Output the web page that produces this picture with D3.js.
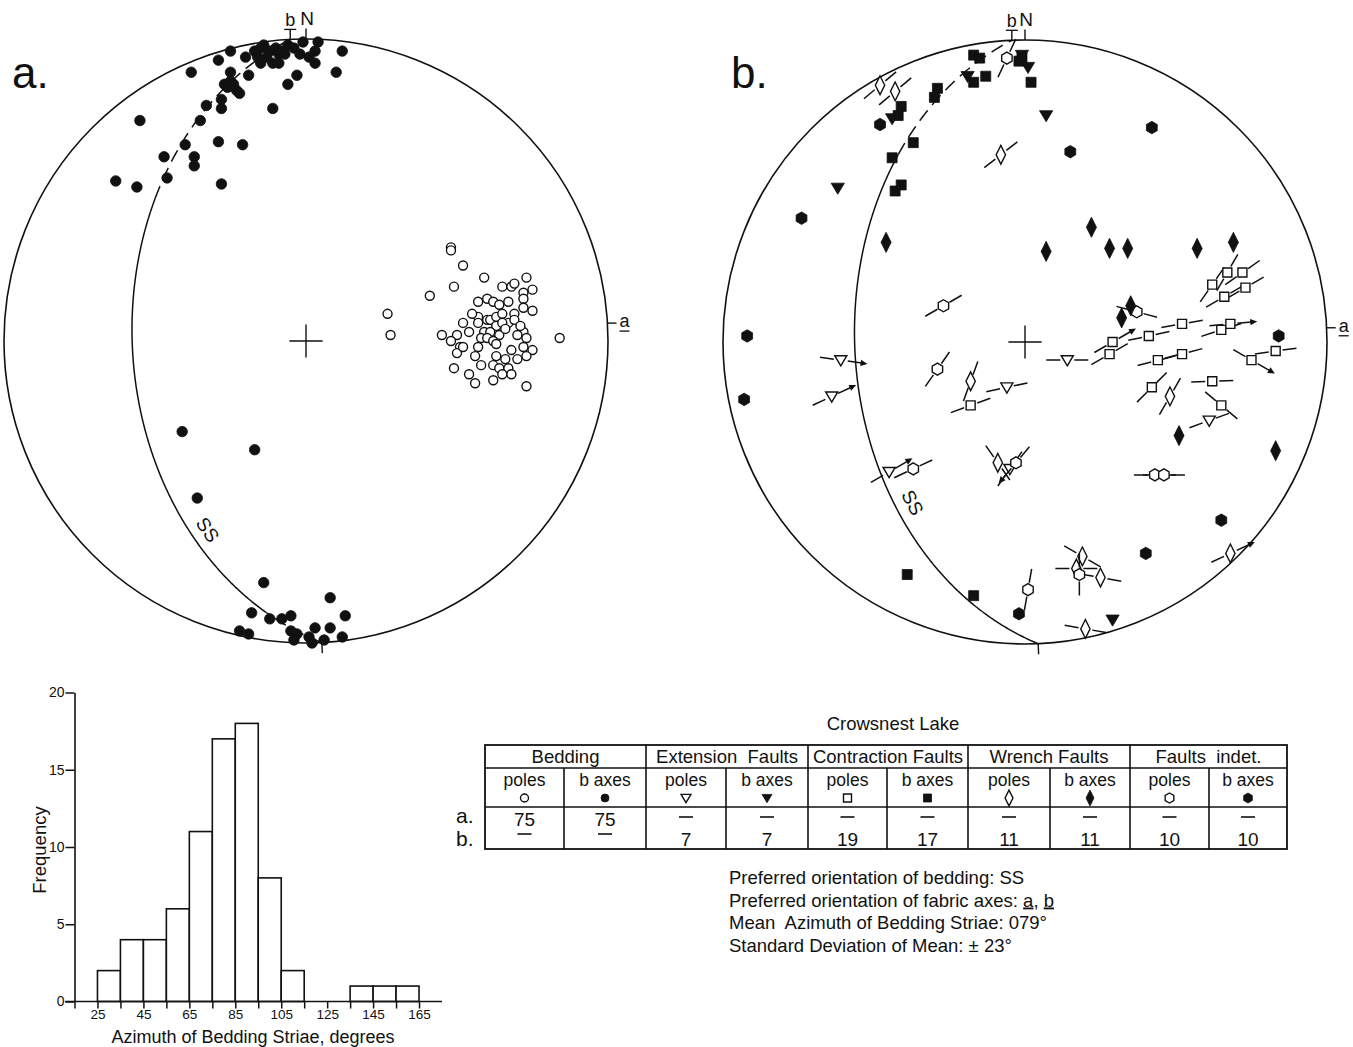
<!DOCTYPE html>
<html>
<head>
<meta charset="utf-8">
<script src="https://cdn.jsdelivr.net/npm/d3@7"></script>
<style>
  body { margin: 0; background: #fff; }
  svg { display: block; }
  text { font-family: "Liberation Sans", Arial, sans-serif; fill: #111; }
</style>
</head>
<body>
<svg id="chart" width="1353" height="1047"></svg>
<script>
// ---------------- Histogram data: azimuth of bedding striae ----------------
const binStarts  = [25, 35, 45, 55, 65, 75, 85, 95, 105, 115, 125, 135, 145, 155];
const binCounts  = [2, 4, 4, 6, 11, 17, 18, 8, 2, 0, 0, 1, 1, 1];
const xTickVals  = [15, 25, 35, 45, 55, 65, 75, 85, 95, 105, 115, 125, 135, 145, 155, 165];
const xTickLabels = [25, 45, 65, 85, 105, 125, 145, 165];
const yTickVals  = [0, 5, 10, 15, 20];

// ---------------- Net a: bedding (equal-area net, % of radius: east, north) ----------------
const beddingBAxes = [
  [-25,96],[-29,93],[-38,89],[-20,94],[-16,94],[-15,97],[-15,92],[-12,96],[-10,97],[-9,95],
  [-8,96],[-11,92],[-9,92],[-6,98],[-4,97],[-1,99],[4,99],[3,96],[1,94],[3,92],
  [12,96],[10,89],[-3,88],[-6,85],[-19,88],[-25,89],[-27,85],[-25,86],[-24,85],[-23,83],
  [-22,82],[-26,84],[-28,80],[-28,77],[-33,78],[-11,77],[-55,73],[-35,73],[-29,66],[-21,65],
  [-40,65],[-47,61],[-37,61],[-37,58],[-46,54],[-63,53],[-56,51],[-28,52],[-13,94],[-7,95],
  [-17,96],[-2,95],[-14,98],
  [-41,-30],[-17,-36],[-36,-52],[-14,-80],[8,-85],[-18,-90],[-12,-92],[-8,-92],[-5,-91],
  [13,-91],[8,-95],[3,-95],[-5,-96],[-3,-97],[-22,-96],[-19,-97],[-4,-99],[1,-98],[2,-100],
  [6,-99],[12,-98]
];
const beddingPoles = [
  [48,31],[48,30],[52,25],[59,21],[49,18],[41,15],[27,9],[28,2],[84,1],[65,18],[68,18],
  [69,19],[73,21],[75,17],[72,16],[57,13],[60,14],[62,13],[67,13],[72,14],[72,11],
  [75,10],[57,8],[60,7],[61,7],[63,8],[65,9],[69,9],[67,6],[69,7],[63,5],
  [65,6],[57,6],[54,3],[45,2],[50,2],[59,3],[61,3],[64,2],[58,1],[60,1],
  [62,0],[72,3],[73,1],[48,0],[51,-2],[50,-4],[52,-2],[57,-2],[72,-2],[75,-3],
  [73,-5],[56,-5],[63,-5],[66,-6],[70,-6],[49,-9],[62,-8],[64,-9],[67,-9],[54,-11],
  [65,-11],[68,-11],[62,-13],[56,-14],[73,-15],[66,4],[70,2],[63,-1],[55,9],[68,-3],
  [58,-8],[52,6],[71,5],[64,12]
];

// ---------------- Net b: faults (east, north[, striae angle, arrow]) ----------------
const extensionPoles = [[-61,-6,-8,1],[-64,-18,25,1],[-45,-43,30,1],[-6,-15,12,0],[14,-6,0,0],[-5,-42,55,0],[61,-26,20,0]];
const extensionAxes  = [[-19,88],[-44,74],[-1,95],[1,91],[7,75],[-62,51],[29,-92]];
const contractionPoles = [
  [67,23,60,0],[72,23,35,0],[62,19,55,0],[73,18,30,0],[66,15,30,0],[52,6,10,0],[41,2,12,0],
  [65,4,18,0],[68,6,5,1],[29,0,30,1],[28,-4,30,0],[44,-6,15,0],[52,-4,15,0],[75,-6,-30,1],
  [83,-3,8,0],[62,-13,2,0],[42,-15,45,0],[65,-21,-40,0],[-18,-21,20,0]
];
const contractionAxes = [
  [-17,95],[-15,94],[-13,88],[-17,86],[-29,84],[-30,81],[-41,78],[-42,75],[-37,66],
  [-44,61],[-41,52],[-43,50],[2,86],[-2,93],[-1,94],[-17,-84],[-39,-77]
];
const wrenchPoles = [
  [-48,85,40,0],[-43,83,40,0],[-8,62,38,0],[-18,-13,70,0],[-9,-40,-55,0],[48,-18,60,0],
  [19,-71,-30,0],[17,-75,0,0],[25,-78,-10,0],[68,-70,25,1],[20,-95,-10,0]
];
const wrenchAxes = [[-46,33],[7,30],[22,38],[28,31],[34,31],[57,31],[69,33],[35,12],[32,8],[51,-31],[83,-36]];
const indetPoles = [
  [-6,94,65,0],[-27,12,30,0],[-29,-9,55,0],[-37,-42,25,0],[-3,-40,50,-1],[37,10,-15,0],
  [43,-44,0,0],[46,-44,0,0],[18,-77,90,0],[1,-82,80,0]
];
const indetAxes = [[-48,72],[15,63],[-74,41],[-92,2],[-93,-19],[84,2],[65,-59],[40,-70],[-2,-90],[42,71]];

// Preferred bedding orientation SS (dip direction, dip) for each net
const ssPlaneA = { dipDir: 267, dip: 42 };
const ssPlaneB = { dipDir: 267.5, dip: 43 };

// ---------------- Table ----------------
const tableTitle = "Crowsnest Lake";
const groupNames = ["Bedding", "Extension  Faults", "Contraction Faults", "Wrench Faults", "Faults  indet."];
const subNames   = ["poles", "b axes"];
const symbolKeys = ["circle", "circle", "tri", "tri", "square", "square", "diamond", "diamond", "hex", "hex"];
const countsA    = ["75", "75", "", "", "", "", "", "", "", ""];
const countsB    = ["", "", "7", "7", "19", "17", "11", "11", "10", "10"];
const notes = [
  ["Preferred orientation of bedding: SS"],
  ["Preferred orientation of fabric axes: ", "a", ", ", "b"],
  ["Mean  Azimuth of Bedding Striae: 079°"],
  ["Standard Deviation of Mean: ± 23°"]
];

// =====================================================================
const svg = d3.select("#chart");
const black = "#111";

// ---------- symbol shapes ----------
function shapePath(kind, s) {
  if (kind === "circle") return d3.symbol(d3.symbolCircle, Math.PI * s * s / 4)();
  if (kind === "square") return `M${-s/2},${-s/2}h${s}v${s}h${-s}Z`;
  if (kind === "tri") {
    const w = s * 0.55, h = s * 0.5;
    return `M${-w},${-h * 0.8}L${w},${-h * 0.8}L0,${h * 1.05}Z`;
  }
  if (kind === "diamond") {
    const w = s * 0.36, h = s * 0.72;
    return `M0,${-h}L${w},0L0,${h}L${-w},0Z`;
  }
  if (kind === "hex") {
    const r = s / 2;
    return d3.range(6).map((i, j) => {
      const a = Math.PI / 180 * (60 * i - 90);
      return (j ? "L" : "M") + (r * Math.cos(a)).toFixed(2) + "," + (r * Math.sin(a)).toFixed(2);
    }).join("") + "Z";
  }
}

// ---------- equal-area great circle ----------
function greatCircle(plane, t0, t1) {
  const r = Math.PI / 180;
  const str = (plane.dipDir - 90) * r, dd = plane.dipDir * r, dp = plane.dip * r;
  const s = [Math.cos(str), Math.sin(str), 0];
  const d = [Math.cos(dd) * Math.cos(dp), Math.sin(dd) * Math.cos(dp), Math.sin(dp)];
  const ts = d3.range(t0, t1, 0.5).concat([t1]);
  return ts.map(t => {
    const c = Math.cos(t * r), sn = Math.sin(t * r);
    const N = c * s[0] + sn * d[0], E = c * s[1] + sn * d[1], D = c * s[2] + sn * d[2];
    const k = 100 / Math.sqrt(1 + D);
    return [E * k, N * k];
  });
}

function drawNet(cfg) {
  const { cx, cy, R } = cfg;
  const x = d3.scaleLinear().domain([-100, 100]).range([cx - R, cx + R]);
  const y = d3.scaleLinear().domain([-100, 100]).range([cy + R, cy - R]);
  const g = svg.append("g");

  // primitive circle
  g.append("circle").attr("cx", x(0)).attr("cy", y(0)).attr("r", x(100) - x(0))
    .attr("fill", "none").attr("stroke", black).attr("stroke-width", 1.6);

  // centre cross
  const c = 5.5;
  g.append("path")
    .attr("d", `M${x(-c)},${y(0)}H${x(c)}M${x(0)},${y(-c)}V${y(c)}`)
    .attr("stroke", black).attr("stroke-width", 1.4);

  // SS great circle
  const line = d3.line().x(p => x(p[0])).y(p => y(p[1]));
  cfg.ssParts.forEach(part => {
    g.append("path").attr("d", line(greatCircle(cfg.plane, part[0], part[1])))
      .attr("fill", "none").attr("stroke", black).attr("stroke-width", 1.5)
      .attr("stroke-dasharray", part[2] ? "13,7" : null);
  });
  // SS label, set just inside the curve and reading down along it
  const lp = greatCircle(cfg.plane, cfg.ssLabelT, cfg.ssLabelT + 1);
  let p0 = [x(lp[0][0]), y(lp[0][1])], p1 = [x(lp[1][0]), y(lp[1][1])];
  if (p1[1] < p0[1]) [p0, p1] = [p1, p0];
  const ang = Math.atan2(p1[1] - p0[1], p1[0] - p0[0]);
  const off = cfg.ssLabelOff;
  g.append("text")
    .attr("transform", `translate(${p0[0] + Math.sin(ang) * off},${p0[1] - Math.cos(ang) * off}) rotate(${ang * 180 / Math.PI})`)
    .attr("text-anchor", "middle").attr("dy", "0.35em")
    .attr("font-size", 19).text("SS");

  // bottom tick at SS end
  const endP = greatCircle(cfg.plane, 0, 0)[0];
  const eA = Math.atan2(endP[0], endP[1]);
  g.append("line")
    .attr("x1", x(100 * Math.sin(eA))).attr("y1", y(100 * Math.cos(eA)))
    .attr("x2", x(103.5 * Math.sin(eA))).attr("y2", y(103.5 * Math.cos(eA)))
    .attr("stroke", black).attr("stroke-width", 1.4);

  // N and b ticks
  const bEnd = greatCircle(cfg.plane, 180, 180)[0];
  const bA = Math.atan2(bEnd[0], bEnd[1]);
  g.append("line").attr("x1", x(0)).attr("y1", y(100)).attr("x2", x(0)).attr("y2", y(103.5))
    .attr("stroke", black).attr("stroke-width", 1.4);
  g.append("text").attr("x", x(0) + 1).attr("y", y(104.7)).attr("text-anchor", "middle")
    .attr("font-size", 19).text("N");
  const bx = x(100 * Math.sin(bA)), by = y(100 * Math.cos(bA));
  g.append("line").attr("x1", bx).attr("y1", by).attr("x2", bx).attr("y2", by - 10)
    .attr("stroke", black).attr("stroke-width", 1.4);
  g.append("text").attr("x", bx).attr("y", by - 13).attr("text-anchor", "middle")
    .attr("font-size", 18).text("b");
  g.append("line").attr("x1", bx - 6).attr("x2", bx + 6).attr("y1", by - 10).attr("y2", by - 10)
    .attr("stroke", black).attr("stroke-width", 1.3);

  // a axis tick
  const aA = cfg.aAzimuth * Math.PI / 180;
  const ax = x(100 * Math.sin(aA)), ay = y(100 * Math.cos(aA));
  g.append("line").attr("x1", ax).attr("y1", ay).attr("x2", ax + 9).attr("y2", ay)
    .attr("stroke", black).attr("stroke-width", 1.4);
  g.append("text").attr("x", ax + 12).attr("y", ay + 4).attr("font-size", 18).text("a");
  g.append("line").attr("x1", ax + 12).attr("x2", ax + 22).attr("y1", ay + 8).attr("y2", ay + 8)
    .attr("stroke", black).attr("stroke-width", 1.3);

  // panel letter
  svg.append("text").attr("x", cfg.letterX).attr("y", 88).attr("font-size", 44).text(cfg.letter);

  return { g, x, y };
}

// Plots a set of points with a given shape; open shapes can carry striae lines
function plotSet(net, data, kind, filled, size, withLines) {
  const { g, x, y } = net;
  const grp = g.append("g");
  if (withLines) {
    data.forEach(p => {
      const cx = x(p[0]), cy = y(p[1]);
      const a = p[2] * Math.PI / 180, ux = Math.cos(a), uy = -Math.sin(a);
      const gap = 7, L = 21;
      grp.append("path")
        .attr("d", `M${cx + ux * gap},${cy + uy * gap}L${cx + ux * L},${cy + uy * L}` +
                   `M${cx - ux * gap},${cy - uy * gap}L${cx - ux * L},${cy - uy * L}`)
        .attr("stroke", black).attr("stroke-width", 1.5);
      if (p[3]) {
        const sgn = p[3];
        const tx = cx + sgn * ux * (L + 6), ty = cy + sgn * uy * (L + 6);
        const dx = sgn * ux, dy = sgn * uy;
        grp.append("path")
          .attr("d", `M${tx},${ty}L${tx - dx * 7 - dy * 3.2},${ty - dy * 7 + dx * 3.2}` +
                     `L${tx - dx * 7 + dy * 3.2},${ty - dy * 7 - dx * 3.2}Z`)
          .attr("fill", black);
        grp.append("line")
          .attr("x1", cx + sgn * ux * L).attr("y1", cy + sgn * uy * L)
          .attr("x2", tx - dx * 5).attr("y2", ty - dy * 5)
          .attr("stroke", black).attr("stroke-width", 1.5);
      }
    });
  }
  grp.selectAll(null).data(data).join("path")
    .attr("transform", p => `translate(${x(p[0])},${y(p[1])})`)
    .attr("d", shapePath(kind, size))
    .attr("fill", filled ? black : "#fff")
    .attr("stroke", black)
    .attr("stroke-width", filled ? 0.8 : 1.4);
}

// ---------------- Net a ----------------
const netA = drawNet({
  cx: 306, cy: 341, R: 302, plane: ssPlaneA,
  ssParts: [[0, 15, true], [15, 128, false], [128, 180, true]],
  ssLabelT: 40, ssLabelOff: 16, aAzimuth: 86.6, letter: "a.", letterX: 12
});
plotSet(netA, beddingPoles, "circle", false, 9, false);
plotSet(netA, beddingBAxes, "circle", true, 10.5, false);

// ---------------- Net b ----------------
const netB = drawNet({
  cx: 1025, cy: 342, R: 302, plane: ssPlaneB,
  ssParts: [[0, 140, false], [140, 180, true]],
  ssLabelT: 48, ssLabelOff: 17, aAzimuth: 87.3, letter: "b.", letterX: 731
});
plotSet(netB, contractionPoles, "square", false, 9, true);
plotSet(netB, extensionPoles, "tri", false, 11, true);
plotSet(netB, wrenchPoles, "diamond", false, 13, true);
plotSet(netB, indetPoles, "hex", false, 12, true);
plotSet(netB, contractionAxes, "square", true, 10, false);
plotSet(netB, extensionAxes, "tri", true, 12, false);
plotSet(netB, wrenchAxes, "diamond", true, 14, false);
plotSet(netB, indetAxes, "hex", true, 12.5, false);

// ---------------- Histogram ----------------
const hx = d3.scaleLinear().domain([15, 175]).range([74.5, 442]);
const hy = d3.scaleLinear().domain([0, 20]).range([1001.5, 692.5]);
const hist = svg.append("g");

hist.selectAll("rect").data(binStarts.map((s, i) => ({ s, c: binCounts[i] })).filter(d => d.c > 0))
  .join("rect")
  .attr("x", d => hx(d.s)).attr("width", d => hx(d.s + 10) - hx(d.s))
  .attr("y", d => hy(d.c)).attr("height", d => hy(0) - hy(d.c))
  .attr("fill", "#fff").attr("stroke", black).attr("stroke-width", 1.6);

const xAxis = hist.append("g").attr("transform", `translate(0,${hy(0)})`)
  .call(d3.axisBottom(hx).tickValues(xTickVals).tickSize(7).tickSizeOuter(0)
    .tickFormat(v => xTickLabels.includes(v) ? v : ""));
xAxis.select(".domain").remove();
xAxis.selectAll("line").attr("stroke", black).attr("stroke-width", 1.5);
xAxis.selectAll("text").attr("font-size", 13.5).attr("y", 7).attr("dy", "0.75em").attr("fill", black);
hist.append("line").attr("x1", 65).attr("x2", hx(175)).attr("y1", hy(0)).attr("y2", hy(0))
  .attr("stroke", black).attr("stroke-width", 1.6);

const yAxis = hist.append("g").attr("transform", `translate(${hx(15)},0)`)
  .call(d3.axisLeft(hy).tickValues(yTickVals).tickSize(9).tickSizeOuter(0));
yAxis.select(".domain").attr("stroke", black).attr("stroke-width", 1.6);
yAxis.selectAll("line").attr("stroke", black).attr("stroke-width", 1.5);
yAxis.selectAll("text").attr("font-size", 14).attr("x", -10).attr("fill", black);

hist.append("text").attr("transform", `translate(46,850) rotate(-90)`)
  .attr("text-anchor", "middle").attr("font-size", 18.5).text("Frequency");
hist.append("text").attr("x", 253).attr("y", 1043)
  .attr("text-anchor", "middle").attr("font-size", 18).text("Azimuth of Bedding Striae, degrees");

// ---------------- Table ----------------
const colEdges = [485, 564, 646, 726, 808, 887, 968, 1050, 1130, 1209, 1287];
const rowY = { top: 745, head: 768, sym: 807, bottom: 849 };
const tab = svg.append("g");
const tl = (x1, y1, x2, y2) => tab.append("line").attr("x1", x1).attr("y1", y1).attr("x2", x2).attr("y2", y2)
  .attr("stroke", black).attr("stroke-width", 1.6);

tab.append("text").attr("x", 893).attr("y", 730).attr("text-anchor", "middle")
  .attr("font-size", 18.5).text(tableTitle);

tab.append("rect").attr("x", colEdges[0]).attr("y", rowY.top)
  .attr("width", colEdges[10] - colEdges[0]).attr("height", rowY.bottom - rowY.top)
  .attr("fill", "none").attr("stroke", black).attr("stroke-width", 1.8);
tl(colEdges[0], rowY.head, colEdges[10], rowY.head);
tl(colEdges[0], rowY.sym, colEdges[10], rowY.sym);
colEdges.slice(1, 10).forEach((cx, i) => {
  if (i % 2 === 1) tl(cx, rowY.top, cx, rowY.bottom);
  else tl(cx, rowY.head, cx, rowY.bottom);
});

groupNames.forEach((name, i) => {
  tab.append("text").attr("x", (colEdges[2 * i] + colEdges[2 * i + 2]) / 2).attr("y", 763)
    .attr("text-anchor", "middle").attr("font-size", 18.5).attr("xml:space", "preserve").text(name);
});
symbolKeys.forEach((k, i) => {
  const cx = (colEdges[i] + colEdges[i + 1]) / 2;
  tab.append("text").attr("x", cx).attr("y", 786).attr("text-anchor", "middle")
    .attr("font-size", 17.5).text(subNames[i % 2]);
  const filled = i % 2 === 1;
  const sz = { circle: 8, tri: 9, square: 8, diamond: 11, hex: 10 }[k];
  tab.append("path").attr("transform", `translate(${cx},${798})`)
    .attr("d", shapePath(k, sz)).attr("fill", filled ? black : "#fff")
    .attr("stroke", black).attr("stroke-width", filled ? 0.8 : 1.4);

  // a. row (upper) and b. row (lower): a value sits on top, a dash marks an empty entry
  const dash = yy => tab.append("line").attr("x1", cx - 7).attr("x2", cx + 7).attr("y1", yy).attr("y2", yy)
    .attr("stroke", black).attr("stroke-width", 1.6);
  if (countsA[i]) {
    tab.append("text").attr("x", cx).attr("y", 826).attr("text-anchor", "middle")
      .attr("font-size", 19).text(countsA[i]);
  } else dash(817);
  if (countsB[i]) {
    tab.append("text").attr("x", cx).attr("y", 846).attr("text-anchor", "middle")
      .attr("font-size", 19).text(countsB[i]);
  } else dash(834);
});
tab.append("text").attr("x", 456).attr("y", 823).attr("font-size", 21).text("a.");
tab.append("text").attr("x", 456).attr("y", 846).attr("font-size", 21).text("b.");

// notes under the table
notes.forEach((parts, i) => {
  const t = svg.append("text").attr("x", 729).attr("y", 884 + i * 22.5).attr("font-size", 18.5)
    .attr("xml:space", "preserve");
  parts.forEach(p => {
    const ts = t.append("tspan").text(p);
    if (p === "a" || p === "b") ts.attr("text-decoration", "underline");
  });
});
</script>
</body>
</html>
